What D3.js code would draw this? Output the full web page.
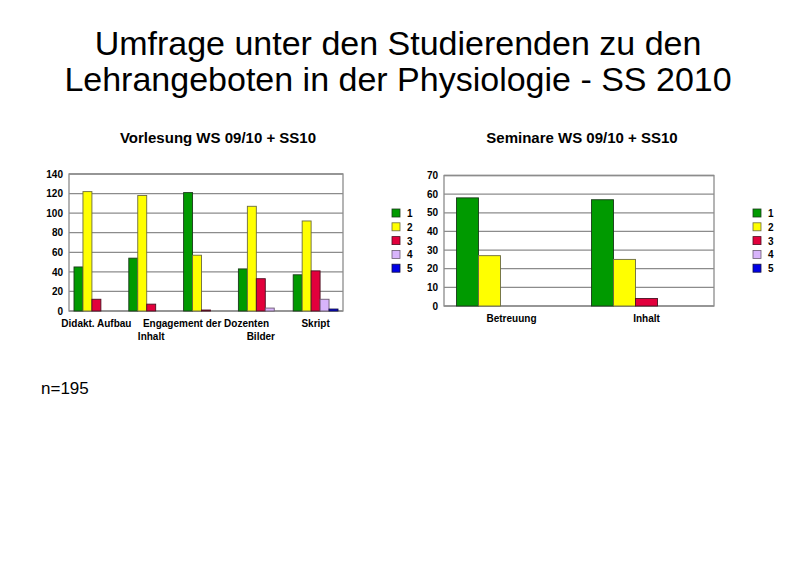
<!DOCTYPE html>
<html>
<head>
<meta charset="utf-8">
<script src="https://cdn.jsdelivr.net/npm/d3@7"></script>
<style>
  body { margin: 0; background: #fff; }
  svg { font-family: "Liberation Sans", Arial, sans-serif; }
</style>
</head>
<body>
<svg id="chart" width="800" height="563"></svg>
<script>
// rating 1..5 (school grades)
var grades = ["1", "2", "3", "4", "5"];
var gradeColors = ["#009a00", "#ffff00", "#e2003c", "#d8b4fb", "#0000e6"];
var gradeStroke = ["#1a3a1a", "#6a6a40", "#4a1020", "#6a5a70", "#101040"];

// Vorlesung WS 09/10 + SS10
var lectureCats = ["Didakt. Aufbau", "Inhalt", "Engagement der Dozenten", "Bilder", "Skript"];
var lecture1 = [45, 54, 121, 43, 37];
var lecture2 = [122, 118, 57, 107, 92];
var lecture3 = [12, 7, 1, 33, 41];
var lecture4 = [0, 0, 0, 3, 12];
var lecture5 = [0, 0, 0, 0, 2];
var lectureTicks = [0, 20, 40, 60, 80, 100, 120, 140];

// Seminare WS 09/10 + SS10
var seminarCats = ["Betreuung", "Inhalt"];
var seminar1 = [58, 57];
var seminar2 = [27, 25];
var seminar3 = [0, 4];
var seminar4 = [0, 0];
var seminar5 = [0, 0];
var seminarTicks = [0, 10, 20, 30, 40, 50, 60, 70];

var svg = d3.select("#chart");

svg.append("text")
  .attr("x", 398).attr("y", 55)
  .attr("text-anchor", "middle")
  .style("font-size", "34px")
  .text("Umfrage unter den Studierenden zu den");
svg.append("text")
  .attr("x", 398).attr("y", 91)
  .attr("text-anchor", "middle")
  .style("font-size", "34px")
  .text("Lehrangeboten in der Physiologie - SS 2010");

svg.append("text")
  .attr("x", 41).attr("y", 394)
  .style("font-size", "17px")
  .text("n=195");

function drawChart(opt) {
  var g = svg.append("g");
  var x = d3.scaleBand().domain(opt.cats).range([opt.left, opt.right]);
  var y = d3.scaleLinear().domain([0, d3.max(opt.ticks)]).range([opt.bottom, opt.top]);
  var inner = d3.scaleBand().domain(grades).range([opt.pad, x.bandwidth() - opt.pad]);

  g.append("text")
    .attr("x", opt.titleX).attr("y", 143)
    .attr("text-anchor", "middle")
    .style("font-size", "15px").style("font-weight", "bold")
    .text(opt.title);

  // gridlines
  g.append("g").selectAll("line").data(opt.ticks).enter().append("line")
    .attr("x1", opt.left).attr("x2", opt.right)
    .attr("y1", d => y(d)).attr("y2", d => y(d))
    .style("stroke", "#8c8c8c").style("stroke-width", 1.3);

  g.append("rect")
    .attr("x", opt.left).attr("y", opt.top)
    .attr("width", opt.right - opt.left).attr("height", opt.bottom - opt.top)
    .style("fill", "none").style("stroke", "#8c8c8c").style("stroke-width", 1.3);

  var yAxis = d3.axisLeft(y).tickValues(opt.ticks).tickSize(0).tickPadding(6);
  g.append("g")
    .attr("transform", "translate(" + opt.left + ",0)")
    .call(yAxis)
    .call(a => a.select(".domain").remove())
    .selectAll("text")
      .style("font-size", "10px").style("font-weight", "bold")
      .style("font-family", "Liberation Sans, Arial, sans-serif")
      .attr("fill", "#000");

  // bars, zero values are not drawn
  opt.series.forEach(function(vals, si) {
    var pts = vals.map((v, i) => ({cat: opt.cats[i], v: v})).filter(d => d.v > 0);
    g.append("g").selectAll("rect").data(pts).enter().append("rect")
      .attr("x", d => x(d.cat) + inner(grades[si]))
      .attr("y", d => y(d.v))
      .attr("width", inner.bandwidth())
      .attr("height", d => y(0) - y(d.v))
      .style("fill", gradeColors[si])
      .style("stroke", gradeStroke[si])
      .style("stroke-width", 0.9);
  });

  // category labels (left chart staggers them on two rows)
  g.append("g").selectAll("text").data(opt.cats).enter().append("text")
    .attr("x", d => x(d) + x.bandwidth() / 2)
    .attr("y", (d, i) => opt.stagger && i % 2 == 1 ? opt.bottom + 29 : opt.bottom + 16)
    .attr("text-anchor", "middle")
    .style("font-size", "10px").style("font-weight", "bold")
    .text(d => d);

  // legend
  var leg = g.append("g").selectAll("g").data(grades).enter().append("g")
    .attr("transform", (d, i) => "translate(" + opt.legendX + "," + (209 + i * 13.8) + ")");
  leg.append("rect")
    .attr("width", 8).attr("height", 8)
    .style("fill", (d, i) => gradeColors[i])
    .style("stroke", (d, i) => gradeStroke[i]).style("stroke-width", 0.8);
  leg.append("text")
    .attr("x", 15).attr("y", 8)
    .style("font-size", "10px").style("font-weight", "bold")
    .text(d => d);
}

drawChart({
  title: "Vorlesung WS 09/10 + SS10", titleX: 218,
  cats: lectureCats, ticks: lectureTicks,
  series: [lecture1, lecture2, lecture3, lecture4, lecture5],
  left: 69, right: 343, top: 174, bottom: 311, pad: 5,
  stagger: true, legendX: 392
});

drawChart({
  title: "Seminare WS 09/10 + SS10", titleX: 582,
  cats: seminarCats, ticks: seminarTicks,
  series: [seminar1, seminar2, seminar3, seminar4, seminar5],
  left: 444, right: 714, top: 175.5, bottom: 306, pad: 12.5,
  stagger: false, legendX: 753
});
</script>
</body>
</html>
